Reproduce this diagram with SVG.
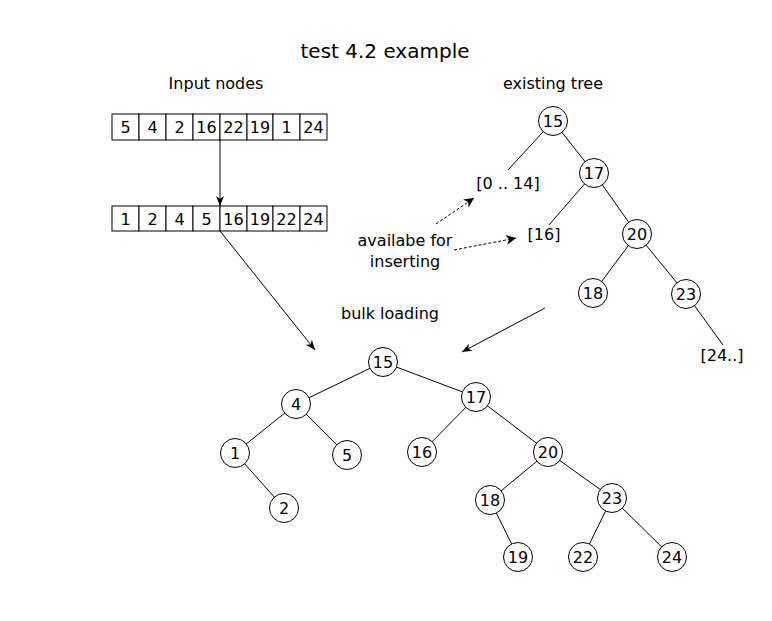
<svg xmlns="http://www.w3.org/2000/svg" width="772" height="621" viewBox="0 0 772 621">
<defs>
<style>
text{font-family:"DejaVu Sans",sans-serif;fill:#000}
.n circle{fill:#fff;stroke:#000;stroke-width:1}
.n text{font-size:16px;text-anchor:middle;dominant-baseline:central}
.cell{fill:#fff;stroke:#000;stroke-width:1}
.ct{font-size:16px;text-anchor:middle}
.e{stroke:#000;stroke-width:1;fill:none}
.d{stroke:#000;stroke-width:1;fill:none;stroke-dasharray:3,2}
.lbl{font-size:16px;text-anchor:middle}
</style>
<marker id="ah" viewBox="0 0 10 10" refX="10" refY="5" markerWidth="11" markerHeight="10" markerUnits="userSpaceOnUse" orient="auto">
<path d="M0,0 L10,5 L0,10 L3,5 z" fill="#000"/>
</marker>
<marker id="ahs" viewBox="0 0 10 10" refX="10" refY="5" markerWidth="13" markerHeight="10" markerUnits="userSpaceOnUse" orient="auto">
<path d="M0,1 L10,5 L0,9 L3,5 z" fill="#000"/>
</marker>
</defs>
<rect width="772" height="621" fill="#fff"/>
<text x="385" y="58" style="font-size:20px;text-anchor:middle">test 4.2 example</text>
<text x="216" y="89" class="lbl">Input nodes</text>
<text x="553" y="89" class="lbl">existing tree</text>
<text x="390" y="319" class="lbl">bulk loading</text>

<g id="input-array">
<rect class="cell" x="112" y="114" width="27" height="26"/><text class="ct" x="125.5" y="133">5</text>
<rect class="cell" x="139" y="114" width="27" height="26"/><text class="ct" x="152.5" y="133">4</text>
<rect class="cell" x="166" y="114" width="27" height="26"/><text class="ct" x="179.5" y="133">2</text>
<rect class="cell" x="193" y="114" width="27" height="26"/><text class="ct" x="206.5" y="133">16</text>
<rect class="cell" x="220" y="114" width="27" height="26"/><text class="ct" x="233.5" y="133">22</text>
<rect class="cell" x="247" y="114" width="26" height="26"/><text class="ct" x="260" y="133">19</text>
<rect class="cell" x="273" y="114" width="27" height="26"/><text class="ct" x="286.5" y="133">1</text>
<rect class="cell" x="300" y="114" width="27" height="26"/><text class="ct" x="313.5" y="133">24</text>
</g>
<g id="sorted-array">
<rect class="cell" x="112" y="206" width="27" height="25"/><text class="ct" x="125.5" y="224.5">1</text>
<rect class="cell" x="139" y="206" width="27" height="25"/><text class="ct" x="152.5" y="224.5">2</text>
<rect class="cell" x="166" y="206" width="27" height="25"/><text class="ct" x="179.5" y="224.5">4</text>
<rect class="cell" x="193" y="206" width="27" height="25"/><text class="ct" x="206.5" y="224.5">5</text>
<rect class="cell" x="220" y="206" width="27" height="25"/><text class="ct" x="233.5" y="224.5">16</text>
<rect class="cell" x="247" y="206" width="26" height="25"/><text class="ct" x="260" y="224.5">19</text>
<rect class="cell" x="273" y="206" width="27" height="25"/><text class="ct" x="286.5" y="224.5">22</text>
<rect class="cell" x="300" y="206" width="27" height="25"/><text class="ct" x="313.5" y="224.5">24</text>
</g>

<g id="labels">
<text x="508" y="189" class="lbl">[0 .. 14]</text>
<text x="544" y="240" class="lbl">[16]</text>
<text x="722" y="361" class="lbl">[24..]</text>
<text x="405" y="246" class="lbl">availabe for</text>
<text x="405" y="267" class="lbl">inserting</text>
</g>

<g id="connectors">
<line class="e" x1="220" y1="140" x2="220" y2="206" marker-end="url(#ahs)"/>
<line class="e" x1="220" y1="231" x2="315" y2="350" marker-end="url(#ahs)"/>
<line class="e" x1="545" y1="308" x2="462" y2="352" marker-end="url(#ahs)"/>
<line class="d" x1="436" y1="224" x2="474" y2="198" marker-end="url(#ah)"/>
<line class="d" x1="454" y1="250" x2="516" y2="238" marker-end="url(#ah)"/>
<!-- existing tree -->
<line class="e" x1="553" y1="121" x2="508" y2="170"/>
<line class="e" x1="553" y1="121" x2="594" y2="173"/>
<line class="e" x1="594" y1="173" x2="549" y2="225"/>
<line class="e" x1="594" y1="173" x2="637" y2="234"/>
<line class="e" x1="637" y1="234" x2="593" y2="293"/>
<line class="e" x1="637" y1="234" x2="686" y2="294"/>
<line class="e" x1="686" y1="294" x2="723" y2="345"/>
<!-- bulk tree -->
<line class="e" x1="383" y1="362" x2="296" y2="404"/>
<line class="e" x1="383" y1="362" x2="476" y2="397"/>
<line class="e" x1="296" y1="404" x2="235" y2="453"/>
<line class="e" x1="296" y1="404" x2="347" y2="455"/>
<line class="e" x1="235" y1="453" x2="284" y2="508"/>
<line class="e" x1="476" y1="397" x2="422" y2="452"/>
<line class="e" x1="476" y1="397" x2="548" y2="452"/>
<line class="e" x1="548" y1="452" x2="490" y2="500"/>
<line class="e" x1="548" y1="452" x2="612" y2="498"/>
<line class="e" x1="490" y1="500" x2="518" y2="557"/>
<line class="e" x1="612" y1="498" x2="583" y2="557"/>
<line class="e" x1="612" y1="498" x2="672" y2="557"/>
</g>

<g id="e15" class="n"><circle cx="553" cy="121" r="14.5"/><text x="553" y="121">15</text></g>
<g id="e17" class="n"><circle cx="594" cy="173" r="14.5"/><text x="594" y="173">17</text></g>
<g id="e20" class="n"><circle cx="637" cy="234" r="14.5"/><text x="637" y="234">20</text></g>
<g id="e18" class="n"><circle cx="593" cy="293" r="14.5"/><text x="593" y="293">18</text></g>
<g id="e23" class="n"><circle cx="686" cy="294" r="14.5"/><text x="686" y="294">23</text></g>

<g id="b15" class="n"><circle cx="383" cy="362" r="14.5"/><text x="383" y="362">15</text></g>
<g id="b4" class="n"><circle cx="296" cy="404" r="14.5"/><text x="296" y="404">4</text></g>
<g id="b1" class="n"><circle cx="235" cy="453" r="14.5"/><text x="235" y="453">1</text></g>
<g id="b5" class="n"><circle cx="347" cy="455" r="14.5"/><text x="347" y="455">5</text></g>
<g id="b2" class="n"><circle cx="284" cy="508" r="14.5"/><text x="284" y="508">2</text></g>
<g id="b17" class="n"><circle cx="476" cy="397" r="14.5"/><text x="476" y="397">17</text></g>
<g id="b16" class="n"><circle cx="422" cy="452" r="14.5"/><text x="422" y="452">16</text></g>
<g id="b20" class="n"><circle cx="548" cy="452" r="14.5"/><text x="548" y="452">20</text></g>
<g id="b18" class="n"><circle cx="490" cy="500" r="14.5"/><text x="490" y="500">18</text></g>
<g id="b23" class="n"><circle cx="612" cy="498" r="14.5"/><text x="612" y="498">23</text></g>
<g id="b19" class="n"><circle cx="518" cy="557" r="14.5"/><text x="518" y="557">19</text></g>
<g id="b22" class="n"><circle cx="583" cy="557" r="14.5"/><text x="583" y="557">22</text></g>
<g id="b24" class="n"><circle cx="672" cy="557" r="14.5"/><text x="672" y="557">24</text></g>
</svg>
